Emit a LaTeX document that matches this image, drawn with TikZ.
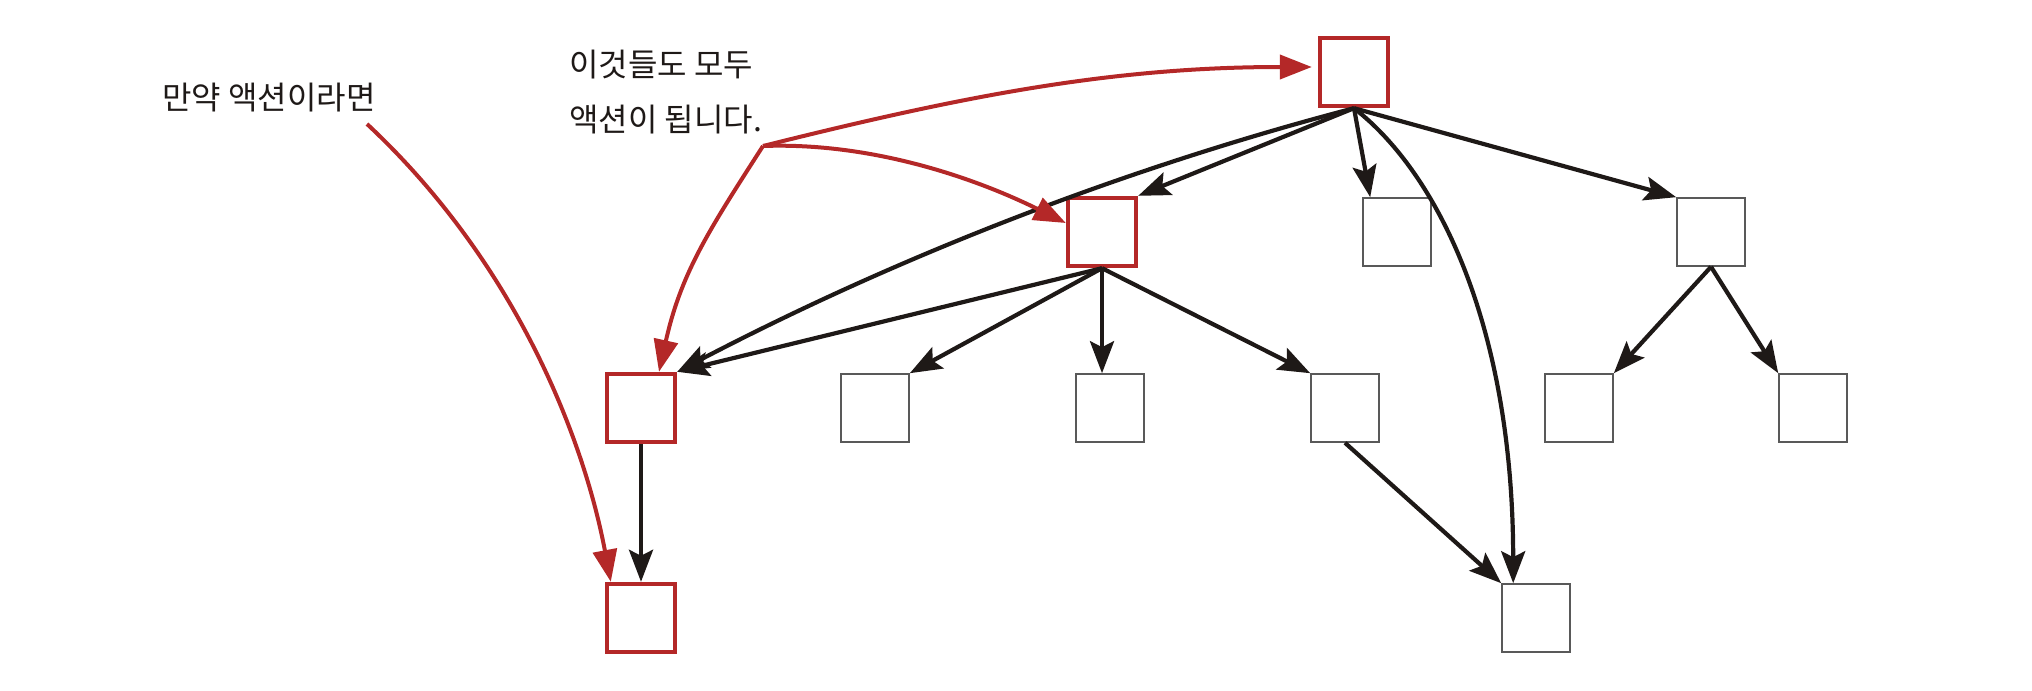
\documentclass[tikz,border=0pt]{standalone}
\usepackage{fontspec}
\newfontfamily\kr{Noto Sans CJK KR}
\usetikzlibrary{arrows.meta}
\definecolor{redline}{RGB}{180,40,40}
\definecolor{inkline}{RGB}{30,25,23}
\tikzset{
  box/.style={draw=black!65, line width=0.8pt, minimum size=34pt, inner sep=0pt},
  redbox/.style={draw=redline, line width=2.2pt, minimum size=34pt, inner sep=0pt},
  link/.style={draw=inkline, line width=2.1pt, -{Stealth[length=16pt,width=12pt,inset=3pt]}},
  redlink/.style={draw=redline, line width=2pt, -{Triangle[length=16pt,width=12pt]}},
  note/.style={font=\kr\fontsize{16}{18}\selectfont, text=inkline, inner sep=0pt, anchor=west}
}
\begin{document}
\begin{tikzpicture}[x=0.5pt,y=-0.5pt]
\useasboundingbox (0,0) rectangle (2032,690);
\node[redbox] (root) at (1354,72) {};
\node[redbox] (l1a) at (1102,232) {};
\node[box] (l1b) at (1397,232) {};
\node[box] (l1c) at (1711,232) {};
\node[redbox] (l2a) at (641,408) {};
\node[box] (l2b) at (875,408) {};
\node[box] (l2c) at (1110,408) {};
\node[box] (l2d) at (1345,408) {};
\node[box] (l2e) at (1579,408) {};
\node[box] (l2f) at (1813,408) {};
\node[redbox] (l3a) at (641,618) {};
\node[box] (l3b) at (1536,618) {};
\node[note] (ifnote) at (162,98) {만약 액션이라면};
\node[note] (allnote) at (569,65) {이것들도 모두};
\node[note] (becomenote) at (569,120) {액션이 됩니다.};
\draw[link] (root.south) -- (l1a.north east);
\draw[link] (root.south) -- ([xshift=4pt]l1b.north west);
\draw[link] (root.south) -- (l1c.north west);
\draw[link] (root.south) .. controls (1118,170) and (893,259) .. (l2a.north east);
\draw[link] (root.south) .. controls (1440,175) and (1513,330) .. ([xshift=6pt]l3b.north west);
\draw[link] (l1a.south) -- (l2a.north east);
\draw[link] (l1a.south) -- (l2b.north east);
\draw[link] (l1a.south) -- (l1a.south |- l2c.north);
\draw[link] (l1a.south) -- (l2d.north west);
\draw[link] (l1c.south) -- (l2e.north east);
\draw[link] (l1c.south) -- (l2f.north west);
\draw[link] (l2d.south) -- (l3b.north west);
\draw[link] (l2a.south) -- (l3a.north);
\coordinate (ifaction) at (367,124);
\coordinate (fork) at (763,146);
\draw[redlink] (ifaction) .. controls (517,264) and (584,440) .. ([xshift=3pt]l3a.north west);
\draw[redlink, shorten >=3pt] (fork) .. controls (963,96) and (1112,67) .. ([yshift=2.5pt]root.west);
\draw[redlink] (fork) .. controls (873,142) and (977,179) .. ([yshift=4.5pt]l1a.west);
\draw[redlink] (fork) .. controls (709,230) and (681,273) .. ([xshift=9pt]l2a.north);
\end{tikzpicture}
\end{document}
